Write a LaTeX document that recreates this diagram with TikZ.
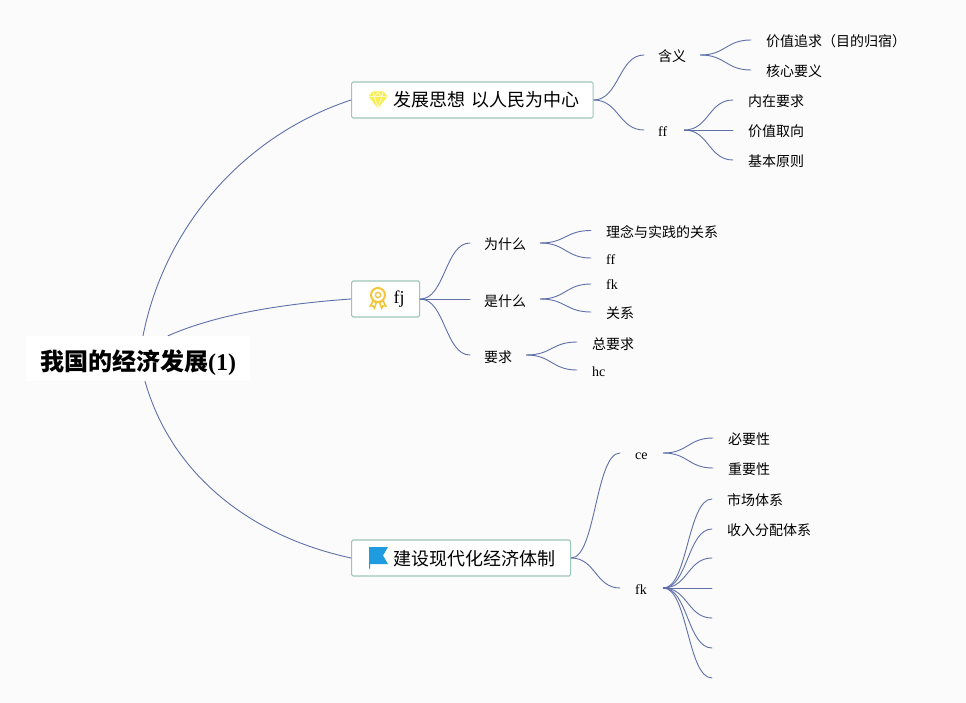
\documentclass[tikz,border=0pt]{standalone}
\usepackage{fontspec}
\setmainfont{Liberation Serif}
\newfontfamily\cjk{Noto Sans CJK SC}
\usetikzlibrary{calc}
\definecolor{bgc}{HTML}{FBFBFC}
\definecolor{linec}{HTML}{5F70A8}
\definecolor{boxc}{HTML}{9DC4BA}
\definecolor{diamondc}{HTML}{F7EE55}
\definecolor{medalc}{HTML}{F3C53A}
\definecolor{flagc}{HTML}{1F9BE0}
\tikzset{
  conn/.style={draw=linec,line width=0.9pt,line cap=round},
  root/.style={fill=white,inner sep=0pt,anchor=west,minimum height=45pt,font=\fontsize{24}{24}\selectfont\bfseries,text height=26pt,text depth=2pt},
  main/.style={draw=boxc,line width=1.2pt,rounded corners=1.5pt,fill=white,inner sep=0pt,anchor=west,minimum height=36pt,font=\fontsize{18}{18}\selectfont,text height=15pt,text depth=1pt,align=left},
  mid/.style={inner ysep=0pt,inner xsep=14pt,anchor=west,font=\fontsize{14}{14}\selectfont,text height=15pt,text depth=1pt},
  midb/.style={mid,text height=14pt,text depth=2pt},
  leaf/.style={mid,inner xsep=15pt},
  leafb/.style={midb,inner xsep=15pt}
}
\newcommand{\conn}[2]{\draw[conn] (#1) .. controls ($(#1)!0.5!(#2 |- #1)$) and ($(#2)!0.5!(#1 |- #2)$) .. (#2);}
\begin{document}
\begin{tikzpicture}[x=1pt,y=-1pt]
\useasboundingbox (0,0) rectangle (966,703);
\fill[bgc] (0,0) rectangle (966,703);
% nodes
\node[root,minimum width=224pt,align=center] (r) at (26,358.5) {\cjk 我国的经济发展{\rmfamily\bfseries (1)}};
\node[main,text width=241.5pt] (a) at (351,100) {\hspace*{42pt}{\cjk 发展思想 以人民为中心}};
\node[main,text width=68pt] (b) at (351,299) {\hspace*{42pt}\raisebox{3pt}{fj}};
\node[main,text width=219pt] (c) at (351,558) {\hspace*{42pt}{\cjk 建设现代化经济体制}};
% level 2
\node[mid] (a1) at (644,55) {\cjk 含义};
\node[mid,text width=12pt] (a2) at (644,130) {ff};
\node[mid] (b1) at (470,243) {\cjk 为什么};
\node[mid] (b2) at (470,299) {\cjk 是什么};
\node[mid] (b3) at (470,355) {\cjk 要求};
\node[midb,inner xsep=15pt,text width=13pt] (c1) at (620,453) {ce};
\node[midb,inner xsep=15pt,text width=13pt] (c2) at (620,588) {fk};
% leaves
\node[leaf] (a11) at (751,40) {\cjk 价值追求（目的归宿）};
\node[leaf] (a12) at (751,70) {\cjk 核心要义};
\node[leaf] (a21) at (733,100) {\cjk 内在要求};
\node[leaf] (a22) at (733,130) {\cjk 价值取向};
\node[leaf] (a23) at (733,160) {\cjk 基本原则};
\node[leaf] (b11) at (591,230.5) {\cjk 理念与实践的关系};
\node[leaf] (b12) at (591,258) {ff};
\node[leafb] (b21) at (591,284) {fk};
\node[leafb] (b22) at (591,312) {\cjk 关系};
\node[leaf] (b31) at (577,342) {\cjk 总要求};
\node[leafb] (b32) at (577,370) {hc};
\node[leafb] (c11) at (713,438) {\cjk 必要性};
\node[leafb] (c12) at (713,468) {\cjk 重要性};
\node[leafb] (c21) at (712,499) {\cjk 市场体系};
\node[leafb] (c22) at (712,529) {\cjk 收入分配体系};
\coordinate (c23) at (712,558);
\coordinate (c24) at (712,588);
\coordinate (c25) at (712,618);
\coordinate (c26) at (712,648);
\coordinate (c27) at (712,678);
% root attachment points
\path (r.north west) ++(117,0) coordinate (ra);
\path (r.north west) ++(142,0) coordinate (rb);
\path (r.south west) ++(119,0) coordinate (rc);
% connectors from root
\draw[conn] (ra) .. controls (165,225) and (245,135) .. (a.west);
\draw[conn] (rb) .. controls (215,315) and (280,304) .. (b.west);
\draw[conn] (rc) .. controls (170,470) and (245,535) .. (c.west);
% connectors
\conn{a.east}{a1.west}\conn{a.east}{a2.west}
\conn{b.east}{b1.west}\conn{b.east}{b2.west}\conn{b.east}{b3.west}
\conn{c.east}{c1.west}\conn{c.east}{c2.west}
\conn{a1.east}{a11.west}\conn{a1.east}{a12.west}
\conn{a2.east}{a21.west}\conn{a2.east}{a22.west}\conn{a2.east}{a23.west}
\conn{b1.east}{b11.west}\conn{b1.east}{b12.west}
\conn{b2.east}{b21.west}\conn{b2.east}{b22.west}
\conn{b3.east}{b31.west}\conn{b3.east}{b32.west}
\conn{c1.east}{c11.west}\conn{c1.east}{c12.west}
\conn{c2.east}{c21.west}\conn{c2.east}{c22.west}
\conn{c2.east}{c23}\conn{c2.east}{c24}\conn{c2.east}{c25}\conn{c2.east}{c26}\conn{c2.east}{c27}
% diamond icon
\begin{scope}[shift={(378,100)}]
\fill[diamondc,rounded corners=1pt] (-5.5,-8.5) -- (5.5,-8.5) -- (9.5,-3.5) -- (0,8.5) -- (-9.5,-3.5) -- cycle;
\draw[white,line width=0.5pt] (-9,-3.5) -- (9,-3.5) (-4,-3.5) -- (0,7.5) -- (4,-3.5) (-5,-7.5) -- (-4,-3.5) -- (0,-7.5) -- (4,-3.5) -- (5,-7.5);
\end{scope}
% medal icon
\begin{scope}[shift={(378,295)}]
\fill[medalc] (-5,4) -- (-9,12) -- (-5.5,11.5) -- (-3.5,15) -- (-1,8) -- (1,8) -- (3.5,15) -- (5.5,11.5) -- (9,12) -- (5,4) -- cycle;
\fill[white] (-4.5,7) -- (-6,10) -- (-4.4,9.8) -- (-3.8,11.2) -- (-2.8,8) -- cycle (4.5,7) -- (6,10) -- (4.4,9.8) -- (3.8,11.2) -- (2.8,8) -- cycle;
\draw[medalc,line width=2pt,fill=white] (0,0) circle (7);
\draw[medalc,line width=1.4pt] (0,0) circle (2.6);
\end{scope}
% flag icon
\begin{scope}[shift={(369,547)}]
\fill[flagc] (0,0) -- (19,0) -- (14,8.5) -- (19,17) -- (1.2,17) -- (1.2,21.5) -- (0,21.5) -- cycle;
\end{scope}
\end{tikzpicture}
\end{document}
